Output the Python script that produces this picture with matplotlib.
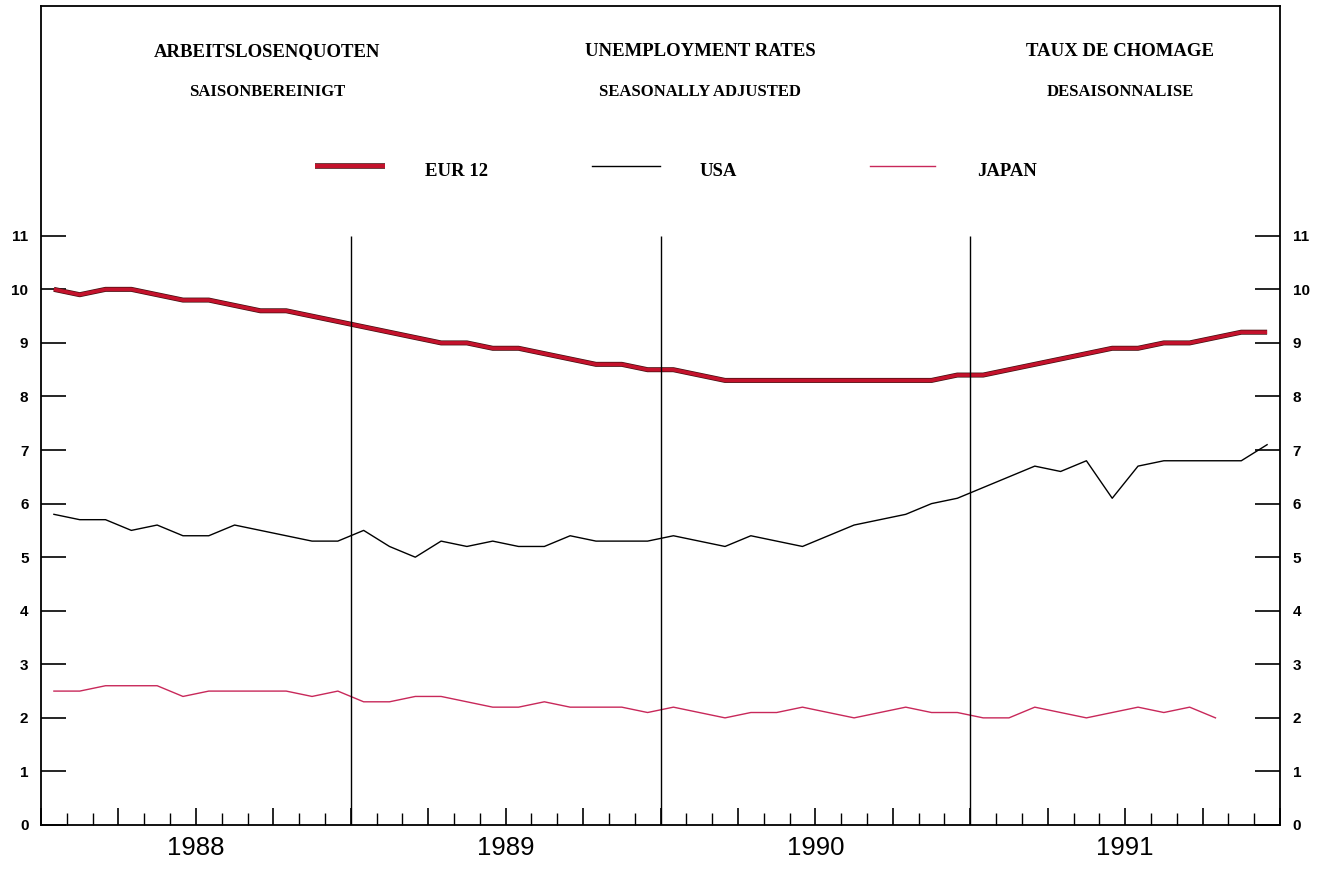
import numpy as np
import matplotlib
matplotlib.use("Agg")
import matplotlib.pyplot as plt
import matplotlib.patheffects as pe
from matplotlib.lines import Line2D

# monatliche Werte Jan 1988 - Dez 1991
eur12 = [10.0, 9.9, 10.0, 10.0, 9.9, 9.8, 9.8, 9.7, 9.6, 9.6, 9.5, 9.4,
         9.3, 9.2, 9.1, 9.0, 9.0, 8.9, 8.9, 8.8, 8.7, 8.6, 8.6, 8.5,
         8.5, 8.4, 8.3, 8.3, 8.3, 8.3, 8.3, 8.3, 8.3, 8.3, 8.3, 8.4,
         8.4, 8.5, 8.6, 8.7, 8.8, 8.9, 8.9, 9.0, 9.0, 9.1, 9.2, 9.2]
usa = [5.8, 5.7, 5.7, 5.5, 5.6, 5.4, 5.4, 5.6, 5.5, 5.4, 5.3, 5.3,
       5.5, 5.2, 5.0, 5.3, 5.2, 5.3, 5.2, 5.2, 5.4, 5.3, 5.3, 5.3,
       5.4, 5.3, 5.2, 5.4, 5.3, 5.2, 5.4, 5.6, 5.7, 5.8, 6.0, 6.1,
       6.3, 6.5, 6.7, 6.6, 6.8, 6.1, 6.7, 6.8, 6.8, 6.8, 6.8, 7.1]
japan = [2.5, 2.5, 2.6, 2.6, 2.6, 2.4, 2.5, 2.5, 2.5, 2.5, 2.4, 2.5,
         2.3, 2.3, 2.4, 2.4, 2.3, 2.2, 2.2, 2.3, 2.2, 2.2, 2.2, 2.1,
         2.2, 2.1, 2.0, 2.1, 2.1, 2.2, 2.1, 2.0, 2.1, 2.2, 2.1, 2.1,
         2.0, 2.0, 2.2, 2.1, 2.0, 2.1, 2.2, 2.1, 2.2, 2.0]
years = ["1988", "1989", "1990", "1991"]

x_eur = np.arange(len(eur12)) + 0.5
x_usa = np.arange(len(usa)) + 0.5
x_jap = np.arange(len(japan)) + 0.5

red = "#c4122c"
pink = "#c8285a"

fig = plt.figure(figsize=(13.19, 8.77), dpi=100)
ax = fig.add_axes([41 / 1319, 1 - 825 / 877, 1239 / 1319, 819 / 877])

ax.plot(x_usa, usa, color="black", lw=1.0)
ax.plot(x_jap, japan, color=pink, lw=1.0)
ax.plot(x_eur, eur12, color=red, lw=2.6, solid_capstyle="butt",
        path_effects=[pe.Stroke(linewidth=3.6, foreground="#401010"), pe.Normal()])

ax.vlines([12, 24, 36], 0, 11, color="black", lw=1.0)

ax.set_xlim(0, 48)
ax.set_ylim(0, 15.29)

# x: Quartale lang, Monate kurz, Jahreszahlen in der Jahresmitte
ax.set_xticks(np.arange(0, 49, 3))
lbls = [""] * 17
for k, y in enumerate(years):
    lbls[2 + 4 * k] = y
ax.set_xticklabels(lbls, fontsize=18.5, family="Liberation Sans")
ax.set_xticks(np.arange(0, 49, 1), minor=True)
ax.tick_params(axis="x", which="major", direction="in", length=12, width=1.2, pad=8)
ax.tick_params(axis="x", which="minor", direction="in", length=8.5, width=1.0)

ax.set_yticks(range(12))
ax.set_yticklabels([str(v) for v in range(12)], fontsize=11, fontweight="bold",
                   family="Liberation Sans")
ax.tick_params(axis="y", direction="in", length=18, width=1.2, pad=9,
               left=True, right=True, labelleft=True, labelright=True)

for s in ax.spines.values():
    s.set_linewidth(1.3)

# Kopfzeilen
serif = "Liberation Serif"
for xc, t1, t2 in [(267, "ARBEITSLOSENQUOTEN", "SAISONBEREINIGT"),
                   (700, "UNEMPLOYMENT RATES", "SEASONALLY ADJUSTED"),
                   (1120, "TAUX DE CHOMAGE", "DESAISONNALISE")]:
    fig.text(xc / 1319, 1 - 52 / 877, t1, ha="center", va="center",
             fontsize=13.5, family=serif, fontweight="bold")
    fig.text(xc / 1319, 1 - 92 / 877, t2, ha="center", va="center",
             fontsize=12, family=serif, fontweight="bold")

# Legende
ly = 1 - 166 / 877
fig.add_artist(Line2D([315 / 1319, 385 / 1319], [ly, ly], color=red, lw=3.0,
                      solid_capstyle="butt", transform=fig.transFigure,
                      path_effects=[pe.Stroke(linewidth=4.0, foreground="#401010"), pe.Normal()]))
fig.add_artist(Line2D([592 / 1319, 660 / 1319], [ly, ly], color="black", lw=1.0,
                      transform=fig.transFigure))
fig.add_artist(Line2D([870 / 1319, 935 / 1319], [ly, ly], color=pink, lw=1.0,
                      transform=fig.transFigure))
for xl, t in [(425, "EUR 12"), (700, "USA"), (977, "JAPAN")]:
    fig.text(xl / 1319, 1 - 172 / 877, t, ha="left", va="center",
             fontsize=13.5, family=serif, fontweight="bold")

fig.savefig("out.png", dpi=100)
